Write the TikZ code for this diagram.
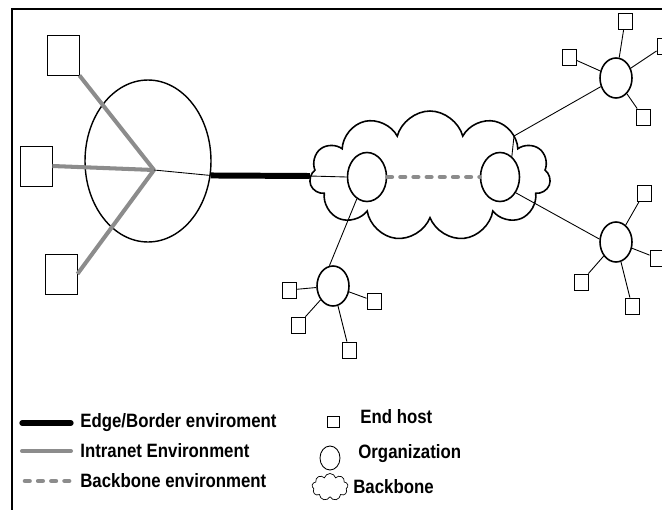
\documentclass[tikz,border=0pt]{standalone}
\usepackage{fontspec}
\newfontfamily\legendfont{Liberation Sans}[FakeStretch=0.87]
\usetikzlibrary{shapes.geometric,shapes.symbols}
\tikzset{
  org/.style={draw,ellipse,line width=0.9pt,inner sep=0pt,minimum width=0.64cm,minimum height=0.8cm},
  host/.style={draw,rectangle,line width=0.5pt,inner sep=0pt,minimum width=0.28cm,minimum height=0.32cm},
  bighost/.style={host,minimum width=0.64cm,minimum height=0.8cm},
  thin/.style={line width=0.5pt},
  edgeline/.style={line width=3.4pt},
  intranet/.style={line width=2.3pt,gray!90},
  backbone/.style={line width=2.6pt,gray!90,line cap=round,dash pattern=on 2.6pt off 4.9pt},
  legtext/.style={anchor=west,inner sep=0pt,font=\legendfont\bfseries\fontsize{11}{13}\selectfont}
}
\begin{document}
\begin{tikzpicture}[x=0.02cm,y=-0.02cm]
\useasboundingbox (0,0) rectangle (662,510);
% frame
\draw[line width=0.8pt] (662,9) -- (12,9) -- (12,510);
% intranet
\node[org,line width=0.8pt,minimum width=2.52cm,minimum height=3.24cm] (org0) at (148,161) {};
\coordinate (hub) at (154,170);
\node[bighost] (sq1) at (63,55) {};
\node[bighost] (sq2) at (36,166) {};
\node[bighost] (sq3) at (61,274) {};
\draw[intranet] (sq1.south east) -- (hub);
\draw[intranet] (sq2.east) -- (hub);
\draw[intranet] (sq3.east) -- (hub);
\draw[thin] (hub) -- (org0.-13);
% backbone
\node[cloud,draw,line width=0.9pt,cloud puffs=11,aspect=1.86,inner sep=0pt,
  minimum width=4.82cm,minimum height=2.6cm] (bb) at (430,176) {};
\node[org,minimum width=0.78cm,minimum height=0.98cm] (c1) at (367,177) {};
\node[org,minimum width=0.78cm,minimum height=0.98cm] (c2) at (500,177) {};
\draw[edgeline] (org0.-13) -- (bb.west);
\draw[thin] (bb.west) -- (c1.west);
\draw[backbone] (c1.east) -- (c2.west);
% organizations
\node[org] (o1) at (616,78) {};
\node[org] (o2) at (616,242) {};
\node[org] (o3) at (333,286) {};
\coordinate (bend) at (514,136);
\draw[thin] (c2.60) -- (bend) -- (o1);
\draw[thin] (c2.-45) -- (o2.170);
\draw[thin] (c1.-115) -- (o3.100);
\foreach \o/\hx/\hy [count=\i] in {o1/625/21,o1/664/46,o1/569/57,o1/643/117,
    o2/644/193,o2/657/258,o2/581/282,o2/632/306,
    o3/289/290,o3/298/325,o3/349/350,o3/374/301}
{
  \node[host] (h\i) at (\hx,\hy) {};
  \draw[thin] (\o) -- (h\i);
}
% legend
\coordinate (l1a) at (22,423); \coordinate (l1b) at (71,423);
\coordinate (l2a) at (22,451); \coordinate (l2b) at (71,451);
\coordinate (l3a) at (25,481); \coordinate (l3b) at (71,481);
\draw[line width=3pt,line cap=round] (l1a) -- (l1b);
\draw[intranet,line cap=round] (l2a) -- (l2b);
\draw[backbone] (l3a) -- (l3b);
\node[legtext] (t1) at (80,423) {Edge/Border enviroment};
\node[legtext] (t2) at (80,451) {Intranet Environment};
\node[legtext] (t3) at (80,481) {Backbone environment};
\node[host,minimum width=0.24cm,minimum height=0.22cm] (k1) at (333,422) {};
\node[org,line width=0.5pt,minimum width=0.4cm,minimum height=0.48cm] (k2) at (330,458) {};
\node[cloud,draw,line width=0.4pt,cloud puffs=9,aspect=1.3,inner sep=0pt,
  minimum width=0.72cm,minimum height=0.54cm] (k3) at (330,487) {};
\node[legtext] (t4) at (360,417) {End host};
\node[legtext] (t5) at (358,454) {Organization};
\node[legtext] (t6) at (353,487) {Backbone};
\end{tikzpicture}
\end{document}
